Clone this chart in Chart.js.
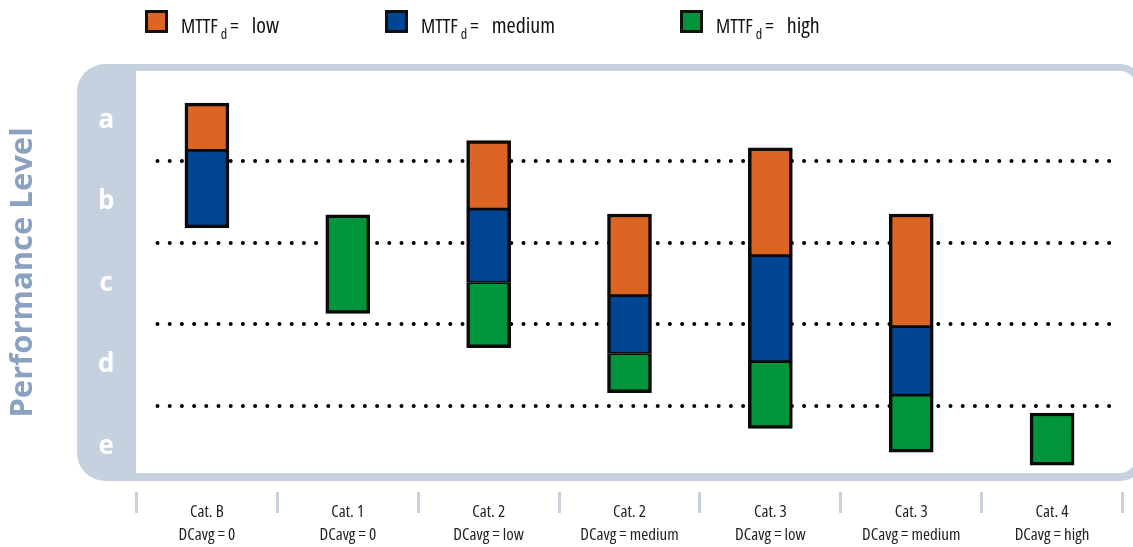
<!doctype html>
<html>

<head>
	<title>Performance Level</title>
	<script src="https://cdn.jsdelivr.net/npm/chart.js@4.4.0/dist/chart.umd.min.js"></script>
	<style>
		body { margin: 0; background: #fff; }
		#wrap { position: relative; width: 1133px; height: 547px; }
		#legend { position: absolute; top: 0; left: 0; width: 100%; height: 45px; font-family: 'Open Sans', sans-serif; font-stretch: condensed; color: #111; }
		.item { position: absolute; top: 10px; display: flex; align-items: baseline; font-size: 20px; line-height: 23px; white-space: pre; }
		.box { display: inline-block; box-sizing: border-box; flex-shrink: 0; width: 23px; height: 23px; border: 3px solid #111; margin-right: 13px; }
		.item sub { font-size: 14px; line-height: 1; position: relative; top: 6px; vertical-align: baseline; margin: 0 3px 0 3px; }
		.item .val { font-size: 22px; margin-left: 13px; }
	</style>
</head>

<body>
	<div id="wrap">
		<canvas id="chart" width="1133" height="547"></canvas>
		<div id="legend"></div>
	</div>
	<script>
		const categories = [
			['Cat. B', 'DCavg = 0'],
			['Cat. 1', 'DCavg = 0'],
			['Cat. 2', 'DCavg = low'],
			['Cat. 2', 'DCavg = medium'],
			['Cat. 3', 'DCavg = low'],
			['Cat. 3', 'DCavg = medium'],
			['Cat. 4', 'DCavg = high']
		];
		const levelLabels = ['e', 'd', 'c', 'b', 'a'];
		const levelBounds = [1, 2, 3, 4];
		const seriesNames = ['low', 'medium', 'high'];

		// [from, to] in performance level units (e = 0..1, a = 4..5)
		const mttfLow = [[4.13, 4.71], null, [3.41, 4.25], [2.35, 3.35], [2.84, 4.16], [1.97, 3.35], null];
		const mttfMedium = [[3.18, 4.13], null, [2.51, 3.41], [1.64, 2.35], [1.54, 2.84], [1.13, 1.97], null];
		const mttfHigh = [null, [2.13, 3.34], [1.71, 2.51], [1.16, 1.64], [0.72, 1.54], [0.43, 1.13], [0.27, 0.91]];

		const colors = ['#dc6523', '#004592', '#00953a'];
		const seriesData = [mttfLow, mttfMedium, mttfHigh];

		// thin joint between stacked segments, thicker outer edge
		function edgeWidth(ctx) {
			const i = ctx.dataIndex;
			const d = ctx.datasetIndex;
			const above = seriesData.slice(0, d).some((s) => s[i]);
			const below = seriesData.slice(d + 1).some((s) => s[i]);
			return { top: above ? 1.75 : 3.5, bottom: below ? 1.75 : 3.5, left: 3.5, right: 3.5 };
		}

		const panelPlugin = {
			id: 'panel',
			beforeDraw(chart) {
				const c = chart.ctx;
				c.save();
				c.fillStyle = '#c6d1e0';
				c.beginPath();
				c.roundRect(77, 64, 1067, 417, [28, 24, 24, 28]);
				c.fill();
				c.fillStyle = '#ffffff';
				c.beginPath();
				c.roundRect(136, 71, 1000, 402, [0, 16, 16, 0]);
				c.fill();
				c.restore();
			}
		};

		const dotsPlugin = {
			id: 'dots',
			beforeDatasetsDraw(chart) {
				const c = chart.ctx;
				const area = chart.chartArea;
				const y = chart.scales.y;
				c.save();
				c.strokeStyle = '#000';
				c.lineWidth = 4;
				c.lineCap = 'round';
				c.setLineDash([0, 12.2]);
				levelBounds.forEach((v) => {
					const py = Math.round(y.getPixelForValue(v));
					c.beginPath();
					c.moveTo(area.left + 21, py);
					c.lineTo(area.right - 12, py);
					c.stroke();
				});
				c.restore();
			}
		};

		const config = {
			type: 'bar',
			data: {
				labels: categories,
				datasets: seriesData.map((data, k) => ({
					label: seriesNames[k],
					data: data,
					backgroundColor: colors[k],
					borderColor: '#0a0a0a',
					borderWidth: edgeWidth,
					borderSkipped: false,
					grouped: false,
					barThickness: 44
				}))
			},
			options: {
				responsive: false,
				animation: false,
				layout: { padding: { top: 53, right: 10.5, left: 0, bottom: 0 } },
				plugins: {
					legend: { display: false },
					tooltip: { enabled: false }
				},
				scales: {
					x: {
						type: 'category',
						offset: true,
						grid: { offset: true, drawOnChartArea: false, drawTicks: true, tickLength: 21, color: '#c6d1e0', lineWidth: 3 },
						border: { display: false },
						ticks: {
							padding: -12,
							color: '#222',
							font: { family: "'Open Sans', sans-serif", size: 17, weight: 'condensed', lineHeight: 1.32 }
						},
						afterFit(scale) { scale.height = 55; }
					},
					y: {
						type: 'linear',
						min: -0.058,
						max: 5.324,
						afterBuildTicks(scale) {
							scale.ticks = levelLabels.map((l, i) => ({ value: i + 0.5 }));
						},
						grid: { display: false, drawTicks: false },
						border: { display: false },
						ticks: {
							padding: 22,
							crossAlign: 'center',
							color: '#ffffff',
							font: { family: "'Open Sans', sans-serif", size: 26, weight: 'bold' },
							callback: (value) => levelLabels[Math.floor(value)]
						},
						title: {
							display: true,
							text: 'Performance Level',
							color: '#8aa1c1',
							font: { family: "'Open Sans', sans-serif", size: 31, weight: 'bold' },
							padding: { top: 5, bottom: 0 }
						},
						afterFit(scale) { scale.width = 136.5; }
					}
				}
			},
			plugins: [panelPlugin, dotsPlugin]
		};

		const chart = new Chart(document.getElementById('chart').getContext('2d'), config);

		// legend with subscript, built from the datasets
		const legendLeft = [145, 385, 680];
		const legend = document.getElementById('legend');
		chart.data.datasets.forEach((ds, k) => {
			const item = document.createElement('div');
			item.className = 'item';
			item.style.left = legendLeft[k] + 'px';
			item.innerHTML = '<span class="box" style="background:' + ds.backgroundColor + '"></span>MTTF<sub>d</sub>=<span class="val">' + ds.label + '</span>';
			legend.appendChild(item);
		});
	</script>
</body>

</html>
